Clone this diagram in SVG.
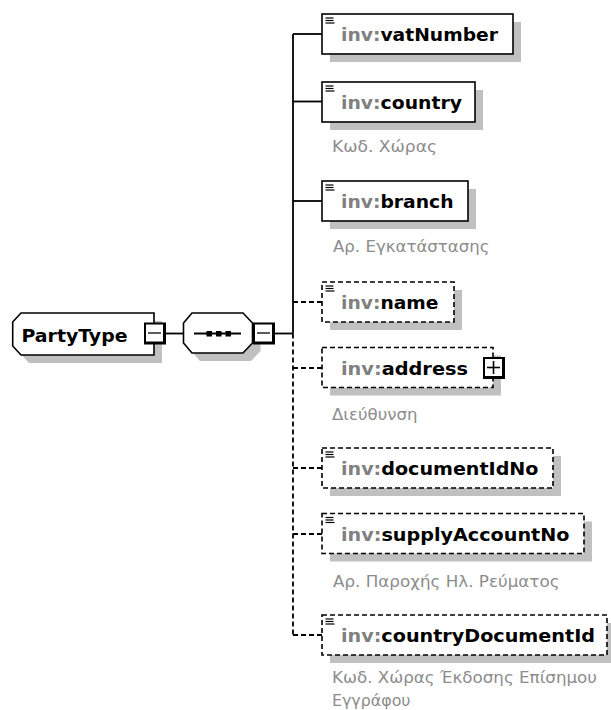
<svg xmlns="http://www.w3.org/2000/svg" width="611" height="710" viewBox="0 0 611 710">
<style>
.bg{fill:#fff}
.shadow{fill:#c0c0c0}
.box{fill:#fff;stroke:#000;stroke-width:1.6}
.dbox{fill:#fff;stroke:#000;stroke-width:1.6;stroke-dasharray:5 3}
.conn{fill:none;stroke:#000;stroke-width:1.8}
.dconn{fill:none;stroke:#000;stroke-width:1.8;stroke-dasharray:5 3}
.lbl{font-family:"DejaVu Sans","Liberation Sans",sans-serif;font-weight:bold;font-size:17.5px;fill:#000}
.ns{fill:#808080}
.ann{font-family:"DejaVu Sans","Liberation Sans",sans-serif;font-size:16px;fill:#8c8c8c}
.doc{stroke:#000;stroke-width:1.2}
</style>
<defs>
<g id="minus">
<rect x="0" y="0" width="22" height="22" fill="#000"/>
<rect x="2" y="2" width="17" height="17" fill="#fff"/>
<line x1="4" y1="10.5" x2="17" y2="10.5" stroke="#333" stroke-width="1.6"/>
</g>
<g id="plus">
<rect x="0" y="0" width="22" height="22" fill="#000"/>
<rect x="2" y="2" width="17" height="17" fill="#fff"/>
<line x1="4" y1="10.5" x2="17" y2="10.5" stroke="#000" stroke-width="1.6"/>
<line x1="10.5" y1="4" x2="10.5" y2="17" stroke="#000" stroke-width="1.6"/>
</g>
<g id="docicon">
<line class="doc" x1="0" y1="0" x2="8" y2="0"/>
<line class="doc" x1="0" y1="2.5" x2="8" y2="2.5"/>
<line class="doc" x1="0" y1="5" x2="9" y2="5"/>
</g>
</defs>
<rect class="bg" x="0" y="0" width="611" height="710"/>

<g id="connectors">
<path class="conn" d="M166,333.5 H183.5"/>
<path class="conn" d="M275,333.5 H293"/>
<path class="conn" d="M293,34 V333.5"/>
<path class="dconn" d="M293,333.5 V635"/>
<path class="conn" d="M293,34 H322"/>
<path class="conn" d="M293,101.5 H322"/>
<path class="conn" d="M293,201 H322"/>
<path class="dconn" d="M293,302 H322"/>
<path class="dconn" d="M293,368 H322"/>
<path class="dconn" d="M293,468 H322"/>
<path class="dconn" d="M293,534 H322"/>
<path class="dconn" d="M293,635 H322"/>
</g>

<g id="PartyType">
<path class="shadow" d="M29,321 L162,321 L162,363 L29,363 L20.7,354 L20.7,330 Z"/>
<path class="box" d="M21,313 L154,313 L154,355 L21,355 L12.7,346 L12.7,322 Z"/>
<text class="lbl" x="21.5" y="341.5" font-size="18.5" textLength="106" lengthAdjust="spacingAndGlyphs">PartyType</text>
<use href="#minus" x="144" y="322.5"/>
</g>

<g id="sequence">
<path class="shadow" d="M200,321 L251,321 L260.5,331 L260.5,351 L251,361 L200,361 L191.5,351 L191.5,331 Z"/>
<path class="box" d="M192,313 L243,313 L252.5,323 L252.5,343 L243,353 L192,353 L183.5,343 L183.5,323 Z"/>
<line x1="194" y1="333.5" x2="241" y2="333.5" stroke="#000" stroke-width="1.8"/>
<rect x="206.5" y="331" width="5.5" height="5.5" fill="#000"/>
<rect x="216" y="331" width="5.5" height="5.5" fill="#000"/>
<rect x="225.5" y="331" width="5.5" height="5.5" fill="#000"/>
<use href="#minus" x="253" y="322.5"/>
</g>

<g id="vatNumber">
<rect class="shadow" x="330" y="22" width="191" height="40"/>
<rect class="box" x="322" y="14" width="191" height="40"/>
<use href="#docicon" x="325.5" y="18"/>
<text class="lbl" x="341" y="40.5" textLength="157" lengthAdjust="spacingAndGlyphs"><tspan class="ns">inv:</tspan>vatNumber</text>
</g>

<g id="country">
<rect class="shadow" x="330" y="90" width="153" height="40"/>
<rect class="box" x="322" y="82" width="153" height="40"/>
<use href="#docicon" x="325.5" y="86"/>
<text class="lbl" x="341" y="108.5" textLength="121" lengthAdjust="spacingAndGlyphs"><tspan class="ns">inv:</tspan>country</text>
<text class="ann" x="332" y="151.5" textLength="105" lengthAdjust="spacingAndGlyphs">Κωδ. Χώρας</text>
</g>

<g id="branch">
<rect class="shadow" x="330" y="189" width="146" height="40"/>
<rect class="box" x="322" y="181" width="146" height="40"/>
<use href="#docicon" x="325.5" y="185"/>
<text class="lbl" x="341" y="207.5" textLength="112.5" lengthAdjust="spacingAndGlyphs"><tspan class="ns">inv:</tspan>branch</text>
<text class="ann" x="333" y="251.5" textLength="156.5" lengthAdjust="spacingAndGlyphs">Αρ. Εγκατάστασης</text>
</g>

<g id="name">
<rect class="shadow" x="330" y="290" width="132" height="40"/>
<rect class="dbox" x="322" y="282" width="132" height="40"/>
<use href="#docicon" x="325.5" y="286"/>
<text class="lbl" x="341" y="308.5" textLength="97.5" lengthAdjust="spacingAndGlyphs"><tspan class="ns">inv:</tspan>name</text>
</g>

<g id="address">
<rect class="shadow" x="330" y="355.5" width="171" height="40"/>
<rect class="dbox" x="322" y="347.5" width="171" height="40"/>
<text class="lbl" x="341" y="374.5" textLength="127" lengthAdjust="spacingAndGlyphs"><tspan class="ns">inv:</tspan>address</text>
<use href="#plus" x="483" y="357"/>
<text class="ann" x="332" y="419.5" textLength="85.5" lengthAdjust="spacingAndGlyphs">Διεύθυνση</text>
</g>

<g id="documentIdNo">
<rect class="shadow" x="330" y="456" width="231" height="40"/>
<rect class="dbox" x="322" y="448" width="231" height="40"/>
<use href="#docicon" x="325.5" y="452"/>
<text class="lbl" x="341" y="474.5" textLength="197.5" lengthAdjust="spacingAndGlyphs"><tspan class="ns">inv:</tspan>documentIdNo</text>
</g>

<g id="supplyAccountNo">
<rect class="shadow" x="330" y="521.5" width="262" height="40"/>
<rect class="dbox" x="322" y="513.5" width="262" height="40"/>
<use href="#docicon" x="325.5" y="517.5"/>
<text class="lbl" x="341" y="540.5" textLength="228.5" lengthAdjust="spacingAndGlyphs"><tspan class="ns">inv:</tspan>supplyAccountNo</text>
<text class="ann" x="333" y="587" textLength="226.5" lengthAdjust="spacingAndGlyphs">Αρ. Παροχής Ηλ. Ρεύματος</text>
</g>

<g id="countryDocumentId">
<rect class="shadow" x="330" y="623" width="285" height="40"/>
<rect class="dbox" x="322" y="615" width="285" height="40"/>
<use href="#docicon" x="325.5" y="619"/>
<text class="lbl" x="341" y="641.5" textLength="254" lengthAdjust="spacingAndGlyphs"><tspan class="ns">inv:</tspan>countryDocumentId</text>
<text class="ann" x="332" y="683" textLength="265" lengthAdjust="spacingAndGlyphs">Κωδ. Χώρας Έκδοσης Επίσημου</text>
<text class="ann" x="332" y="706" textLength="78.5" lengthAdjust="spacingAndGlyphs">Εγγράφου</text>
</g>
</svg>
